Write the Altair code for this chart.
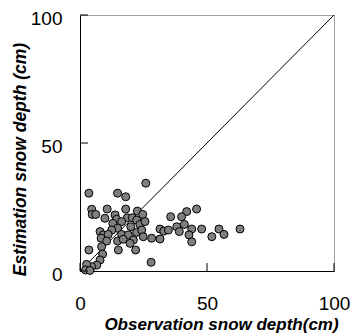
import altair as alt
import pandas as pd

# Observation (x) and estimation (y) snow depth, cm
obs = [25.9, 3.5, 14.8, 18.0, 4.6, 4.8, 6.2, 10.7, 18.0, 9.8, 13.8, 14.4, 22.6, 24.7,
       18.6, 20.6, 22.3, 12.9, 16.4, 20.0, 23.6, 25.6, 14.8, 12.5, 7.9, 9.2, 11.1, 16.4,
       19.0, 22.3, 24.3, 21.0, 24.9, 8.3, 10.5, 14.8, 17.0, 8.5, 15.1, 19.7, 21.9, 28.2,
       31.5, 33.0, 31.5, 3.5, 8.9, 7.9, 6.6, 4.6, 2.6, 2.2, 3.9, 28.0,
       45.9, 42.0, 40.0, 35.7, 41.1, 38.1, 34.8, 39.1, 44.0, 47.9, 54.7, 56.7, 51.9, 63.0,
       42.9, 44.0]
est = [34.3, 30.4, 30.4, 29.0, 24.1, 22.1, 22.1, 24.2, 24.2, 20.6, 21.9, 20.2, 23.4, 22.1,
       20.8, 20.8, 19.9, 18.6, 19.3, 17.3, 18.2, 19.3, 16.7, 16.0, 15.4, 14.1, 14.3, 14.3,
       14.1, 15.1, 16.0, 12.1, 13.4, 12.8, 11.7, 11.7, 12.4, 9.5, 8.2, 10.8, 8.2, 12.8,
       16.4, 15.6, 12.5, 8.2, 6.6, 4.3, 2.3, 1.7, 2.6, 0.4, 0.2, 3.4,
       24.2, 23.2, 21.2, 21.2, 18.2, 17.3, 16.0, 15.4, 16.4, 16.4, 16.4, 14.3, 13.4, 16.4,
       14.1, 11.4]

line_x = [0, 100]
line_y = [0, 100]
tick_values = [0, 50, 100]

W, H = 254, 256
FONT = "Liberation Sans"

pts = pd.DataFrame({"obs": obs, "est": est})
diag = pd.DataFrame({"lx": line_x, "ly": line_y})
ticks = pd.DataFrame({"t": tick_values})

xs = alt.Scale(domain=[0, 100], nice=False, zero=False)
ys = alt.Scale(domain=[0, 100], nice=False, zero=False)

x_axis = alt.Axis(values=tick_values, grid=False, ticks=False, tickSize=0,
                  domainColor="black", domainWidth=1, labelFlush=False,
                  labelFont=FONT, labelFontSize=19, labelColor="black", labelPadding=23,
                  title="Observation snow depth(cm)", titleFont=FONT, titleFontSize=17,
                  titleFontWeight="bold", titleFontStyle="italic", titleColor="black",
                  titleX=141, titleY=58, titleAlign="center", titleBaseline="alphabetic")
y_axis = alt.Axis(values=tick_values, grid=False, ticks=False, tickSize=0,
                  domainColor="black", domainWidth=1, labelFlush=False,
                  labelFont=FONT, labelFontSize=19, labelColor="black", labelPadding=18,
                  labelOffset=3,
                  title="Estimation snow depth (cm)", titleFont=FONT, titleFontSize=17.5,
                  titleFontWeight="bold", titleFontStyle="italic", titleColor="black",
                  titleX=-55, titleY=144, titleAlign="center", titleBaseline="alphabetic",
                  titleAngle=270)

line = alt.Chart(diag).mark_line(color="black", strokeWidth=1).encode(
    x=alt.X("lx:Q", scale=xs, axis=x_axis),
    y=alt.Y("ly:Q", scale=ys, axis=y_axis),
)

points = alt.Chart(pts).mark_point(
    shape="circle", filled=True, fill="#7f7f7f", stroke="black", strokeWidth=1,
    size=64, opacity=1
).encode(
    x=alt.X("obs:Q", scale=xs, axis=x_axis),
    y=alt.Y("est:Q", scale=ys, axis=y_axis),
)

xticks = alt.Chart(ticks).mark_rule(color="black", strokeWidth=1).encode(
    x=alt.X("t:Q", scale=xs, axis=x_axis),
    y=alt.value(H), y2=alt.value(H - 8),
)
yticks = alt.Chart(ticks).mark_rule(color="black", strokeWidth=1).encode(
    y=alt.Y("t:Q", scale=ys, axis=y_axis),
    x=alt.value(0), x2=alt.value(8),
)

chart = alt.layer(line, points, xticks, yticks).properties(
    width=W, height=H,
    autosize=alt.AutoSizeParams(type="none"),
    padding={"left": 80, "top": 15, "right": 18, "bottom": 65},
    background="white",
).configure_view(stroke="#a0a0a0", strokeWidth=1)

chart.save("out.html", embed_options={"renderer": "svg", "actions": False})
